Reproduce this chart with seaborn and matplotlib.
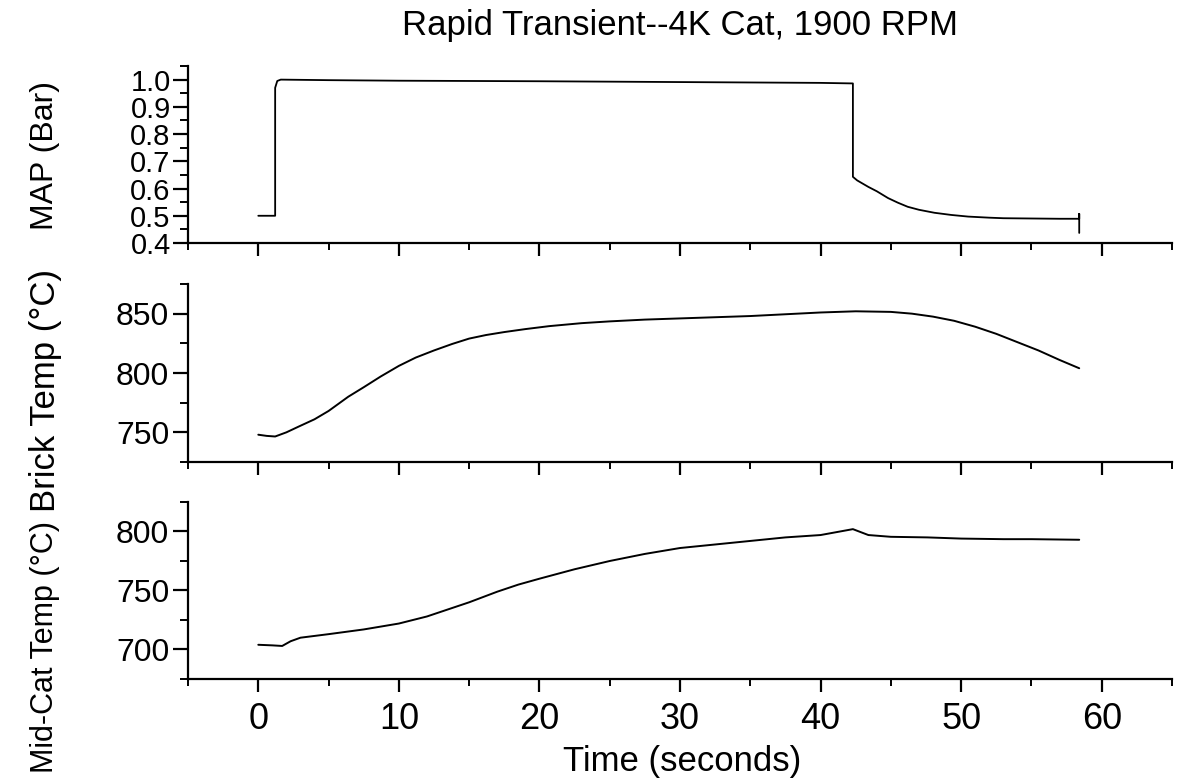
import matplotlib
matplotlib.use("Agg")
import matplotlib.pyplot as plt
from matplotlib.ticker import MultipleLocator
import seaborn as sns

# MAP trace (bar)
map_t = [0.0, 1.2, 1.2, 1.35, 1.6, 5, 10, 20, 30, 40, 42.3, 42.3, 42.6, 43.4, 44.0,
         44.8, 45.5, 46.2, 47.0, 48.1, 49.3, 50.5, 52.0, 53.0, 55.0, 57.0, 58.4, 58.4, 58.4]
map_v = [0.50, 0.50, 0.97, 0.995, 1.000, 0.998, 0.996, 0.994, 0.991, 0.988, 0.986, 0.643,
         0.630, 0.606, 0.590, 0.565, 0.548, 0.533, 0.522, 0.511, 0.503, 0.497, 0.493,
         0.491, 0.490, 0.489, 0.489, 0.507, 0.437]

# brick temperature (C)
brick_t = [0.0, 0.6, 1.2, 2.0, 2.9, 4.0, 5.0, 6.4, 7.5, 8.7, 10.0, 11.2, 12.5, 13.8, 15.0,
           16.2, 17.5, 19.0, 20.7, 23.0, 25.0, 27.5, 30.0, 32.5, 35.0, 37.5, 40.0, 42.5,
           45.0, 46.5, 48.0, 49.5, 51.0, 52.5, 54.0, 55.5, 57.0, 58.4]
brick_v = [748, 747, 746.5, 750, 755, 761, 768, 780, 788, 797, 806, 813, 819, 824.5, 829,
           832, 834.5, 837, 839.5, 842, 843.5, 845, 846, 847, 848, 849.5, 851, 852,
           851.5, 850, 847.5, 844, 839, 833, 826, 819, 811, 804]

# mid-cat temperature (C)
mid_t = [0.0, 1.0, 1.7, 2.3, 3.0, 5.0, 7.5, 10.0, 12.0, 13.5, 15.0, 17.0, 18.5, 20.0,
         22.5, 25.0, 27.5, 30.0, 32.5, 35.0, 37.5, 40.0, 42.3, 43.4, 45.0, 47.6, 50.0,
         53.0, 55.0, 58.4]
mid_v = [704, 703.5, 703, 707, 710, 713, 717, 722, 728, 734, 740, 749, 755, 760,
         768, 775, 781, 786, 789, 792, 795, 797, 802, 797, 795.5, 795, 794,
         793.5, 793.5, 793]

sns.set_style("ticks")
plt.rcParams['font.family'] = ['Liberation Sans', 'DejaVu Sans']
plt.rcParams['axes.linewidth'] = 1.6
plt.rcParams['xtick.major.width'] = 1.6
plt.rcParams['ytick.major.width'] = 1.6
plt.rcParams['xtick.minor.width'] = 1.4
plt.rcParams['ytick.minor.width'] = 1.4
plt.rcParams['axes.edgecolor'] = 'black'
plt.rcParams['text.color'] = 'black'
plt.rcParams['xtick.color'] = 'black'
plt.rcParams['ytick.color'] = 'black'

fig = plt.figure(figsize=(11.81, 7.83), dpi=100)
left, width = 188 / 1181, (1172 - 188) / 1181
ax1 = fig.add_axes([left, 1 - 243 / 783, width, (243 - 66) / 783])
ax2 = fig.add_axes([left, 1 - 462 / 783, width, (462 - 284) / 783])
ax3 = fig.add_axes([left, 1 - 679 / 783, width, (679 - 502) / 783])

sns.lineplot(x=map_t, y=map_v, ax=ax1, color='black', lw=1.3, estimator=None, sort=False)
sns.lineplot(x=brick_t, y=brick_v, ax=ax2, color='black', lw=1.4, estimator=None, sort=False)
sns.lineplot(x=mid_t, y=mid_v, ax=ax3, color='black', lw=1.4, estimator=None, sort=False)

ax1.set_ylim(0.4, 1.05)
ax1.yaxis.set_major_locator(MultipleLocator(0.1))
ax1.yaxis.set_minor_locator(MultipleLocator(0.05))
ax2.set_ylim(725, 875)
ax3.set_ylim(675, 825)
for ax in (ax2, ax3):
    ax.yaxis.set_major_locator(MultipleLocator(50))
    ax.yaxis.set_minor_locator(MultipleLocator(25))

for ax in (ax1, ax2, ax3):
    ax.set_xlim(-5, 65)
    ax.xaxis.set_major_locator(MultipleLocator(10))
    ax.xaxis.set_minor_locator(MultipleLocator(5))
    ax.spines['top'].set_visible(False)
    ax.spines['right'].set_visible(False)
    ax.tick_params(axis='x', which='major', length=9.4, direction='out', colors='black')
    ax.tick_params(axis='x', which='minor', length=5, direction='out', colors='black')
    ax.tick_params(axis='y', which='major', length=10.5, direction='out', colors='black')
    ax.tick_params(axis='y', which='minor', length=5.5, direction='out', colors='black')
    ax.tick_params(axis='y', labelsize=23, pad=3)
    ax.set_xlabel('')
    ax.set_ylabel('')

ax1.tick_params(axis='y', labelsize=21, pad=2)
ax1.tick_params(axis='x', labelbottom=False)
ax2.tick_params(axis='x', labelbottom=False)
ax3.tick_params(axis='x', labelsize=26, pad=7)

fig.text(680 / 1181, 1 - 26 / 783, 'Rapid Transient--4K Cat, 1900 RPM',
         ha='center', va='center', fontsize=25, color='black')
fig.text(682 / 1181, 1 - 762 / 783, 'Time (seconds)', ha='center', va='center',
         fontsize=25, color='black')
fig.text(45 / 1181, 1 - 156 / 783, 'MAP (Bar)', rotation=90, ha='center', va='center',
         fontsize=23, color='black')
fig.text(45 / 1181, 1 - 391 / 783, 'Brick Temp (°C)', rotation=90, ha='center', va='center',
         fontsize=25, color='black')
fig.text(45 / 1181, 1 - 647 / 783, 'Mid-Cat Temp (°C)', rotation=90, ha='center', va='center',
         fontsize=22, color='black')

fig.savefig('out.png', dpi=100)
